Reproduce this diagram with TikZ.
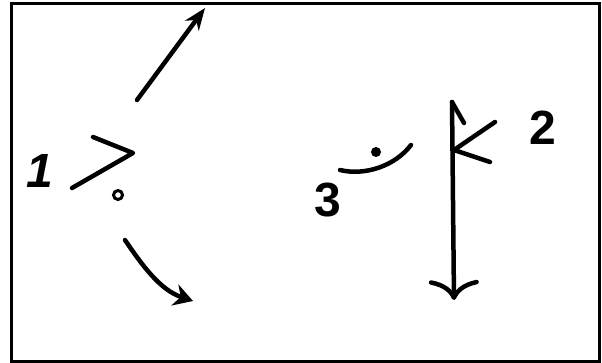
\documentclass[tikz,border=0pt]{standalone}
\usepackage{fontspec}
\setsansfont{Liberation Sans}
\usetikzlibrary{arrows.meta}
\tikzstyle{digit}=[font=\sffamily\bfseries\fontsize{48}{48}\selectfont, inner sep=0pt]
\tikzstyle{pen}=[black, line width=4.5pt, line cap=round, line join=round]

\begin{document}
\begin{tikzpicture}[x=1pt, y=-1pt]
				\useasboundingbox (0,0) rectangle (602,362);
				\draw[black, line width=3pt] (11,3) rectangle (599,361);
				% left group
				\node[digit, font=\sffamily\bfseries\itshape\fontsize{48}{48}\selectfont] (one) at (40,171) {1};
				\draw[pen] (93,137) -- (133,153) -- (72,188);
				\draw[black, line width=3pt] (118,195) circle (4.5);
				\draw[pen, -{Stealth[length=22pt, width=17pt]}] (137,100) -- (205,8);
				\draw[pen, -{Stealth[length=19pt, width=22pt]}] (125,240) .. controls (142,265) and (160,290) .. (193,301);
				% right group
				\node[digit] (three) at (328,200) {3};
				\draw[pen] (340,170) .. controls (365,176) and (395,166) .. (411,145);
				\fill (376,152) circle (5);
				\node[digit] (two) at (543,128) {2};
				\draw[pen, -{To[length=20pt, width=50pt]}] (452,102) -- (454,300);
				\draw[pen] (452,102) -- (464,123);
				\draw[pen] (495,122) -- (454,150) -- (490,162);
			\end{tikzpicture}
\end{document}
